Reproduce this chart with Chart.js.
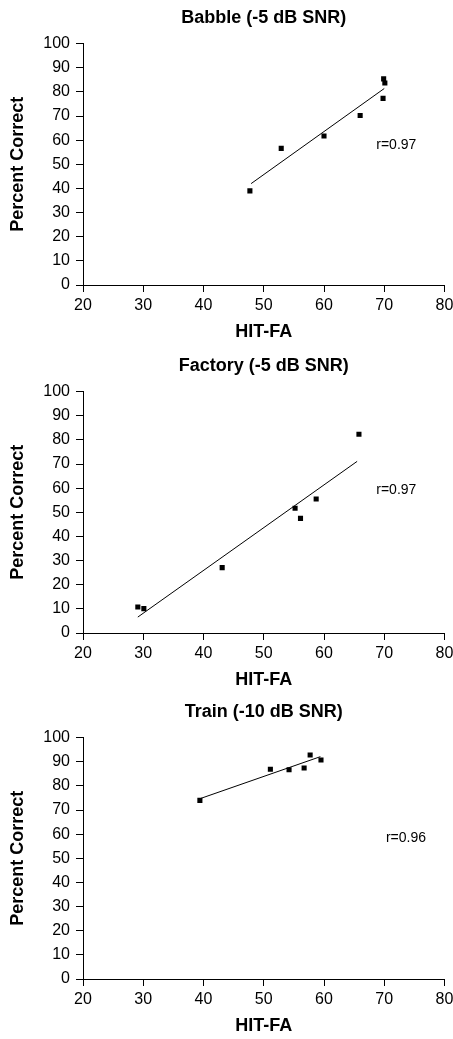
<!DOCTYPE html>
<html>
<head>
<meta charset="utf-8">
<script src="https://cdn.jsdelivr.net/npm/chart.js@4/dist/chart.umd.min.js"></script>
<style>
  body { margin: 0; background: #fff; }
  .box { position: absolute; left: 0; width: 453px; height: 345px; }
</style>
</head>
<body>
<div class="box" style="top:0px"><canvas id="babbleChart" width="453" height="345"></canvas></div>
<div class="box" style="top:348px"><canvas id="factoryChart" width="453" height="345"></canvas></div>
<div class="box" style="top:694px"><canvas id="trainChart" width="453" height="345"></canvas></div>
<script>
// Babble (-5 dB SNR)
const babbleX = [47.7, 52.9, 60.0, 66.0, 69.8, 69.9, 70.1]
const babbleY = [39.0, 56.6, 61.7, 70.2, 77.3, 85.4, 83.7]
const babbleFitX = [47.9, 70.0]
const babbleFitY = [42.0, 81.4]

// Factory (-5 dB SNR)
const factoryX = [29.1, 30.1, 43.1, 55.2, 56.1, 58.7, 65.8]
const factoryY = [10.8, 10.1, 27.1, 51.7, 47.5, 55.5, 82.3]
const factoryFitX = [29.1, 65.5]
const factoryFitY = [6.6, 71.1]

// Train (-10 dB SNR)
const trainX = [39.4, 51.1, 54.2, 56.7, 57.7, 59.5]
const trainY = [74.0, 86.9, 86.7, 87.4, 92.8, 90.7]
const trainFitX = [39.3, 59.4]
const trainFitY = [74.6, 92.1]

const titles = ['Babble (-5 dB SNR)', 'Factory (-5 dB SNR)', 'Train (-10 dB SNR)']
const rLabels = ['r=0.97', 'r=0.97', 'r=0.96']
const rLabelX = [72.0, 72.0, 73.6]
const rLabelY = [58.1, 59.3, 58.5]

const xTicks = [20, 30, 40, 50, 60, 70, 80]
const yTicks = [0, 10, 20, 30, 40, 50, 60, 70, 80, 90, 100]

const fontFamily = '"Liberation Sans", Arial, sans-serif'

// writes the r= value inside the plot
const rLabelPlugin = {
    id: 'rLabel',
    afterDatasetsDraw(chart, args, opts) {
        const c = chart.ctx
        c.save()
        c.font = '14px ' + fontFamily
        c.fillStyle = '#000'
        c.textAlign = 'center'
        c.textBaseline = 'middle'
        c.fillText(opts.text, chart.scales.x.getPixelForValue(opts.x), chart.scales.y.getPixelForValue(opts.y))
        c.restore()
    }
}

function makeChart(canvasId, i, xs, ys, fitX, fitY) {
    const ctx = document.getElementById(canvasId).getContext('2d')
    return new Chart(ctx, {
        type: 'scatter',
        data: {
            datasets: [{
                label: 'data',
                data: xs.map((x, k) => ({ x: x, y: ys[k] })),
                backgroundColor: '#000',
                borderWidth: 0,
                pointStyle: 'rect',
                pointRadius: 3.6
            }, {
                label: 'fit',
                data: fitX.map((x, k) => ({ x: x, y: fitY[k] })),
                showLine: true,
                borderColor: '#000',
                borderWidth: 1,
                pointRadius: 0
            }]
        },
        options: {
            responsive: false,
            animation: false,
            layout: { padding: 0 },
            plugins: {
                legend: { display: false },
                tooltip: { enabled: false },
                title: {
                    display: true,
                    fullSize: false,
                    text: titles[i],
                    color: '#000',
                    font: { family: fontFamily, size: 18, weight: 'bold' },
                    padding: { top: 7, bottom: 15 }
                },
                rLabel: { text: rLabels[i], x: rLabelX[i], y: rLabelY[i] }
            },
            scales: {
                x: {
                    type: 'linear',
                    min: xTicks[0],
                    max: xTicks[xTicks.length - 1],
                    afterBuildTicks: s => { s.ticks = xTicks.map(v => ({ value: v })) },
                    afterFit: s => { s.height = 60; s.paddingRight = 8.5 },
                    border: { color: '#000', width: 1 },
                    grid: { drawOnChartArea: false, drawTicks: true, tickLength: 7, color: '#000' },
                    ticks: { color: '#000', padding: 4, font: { family: fontFamily, size: 16 } },
                    title: {
                        display: true,
                        text: 'HIT-FA',
                        color: '#000',
                        font: { family: fontFamily, size: 18, weight: 'bold' },
                        padding: { top: 0, bottom: 2 }
                    }
                },
                y: {
                    type: 'linear',
                    min: yTicks[0],
                    max: yTicks[yTicks.length - 1],
                    afterBuildTicks: s => { s.ticks = yTicks.map(v => ({ value: v })) },
                    afterFit: s => { s.width = 83 },
                    border: { color: '#000', width: 1 },
                    grid: { drawOnChartArea: false, drawTicks: true, tickLength: 7, color: '#000' },
                    ticks: { color: '#000', padding: 6, font: { family: fontFamily, size: 16 } },
                    title: {
                        display: true,
                        text: 'Percent Correct',
                        color: '#000',
                        font: { family: fontFamily, size: 18, weight: 'bold' },
                        padding: { top: 7, bottom: 0 }
                    }
                }
            }
        },
        plugins: [rLabelPlugin]
    })
}

const babbleChart = makeChart('babbleChart', 0, babbleX, babbleY, babbleFitX, babbleFitY)
const factoryChart = makeChart('factoryChart', 1, factoryX, factoryY, factoryFitX, factoryFitY)
const trainChart = makeChart('trainChart', 2, trainX, trainY, trainFitX, trainFitY)
</script>
</body>
</html>
